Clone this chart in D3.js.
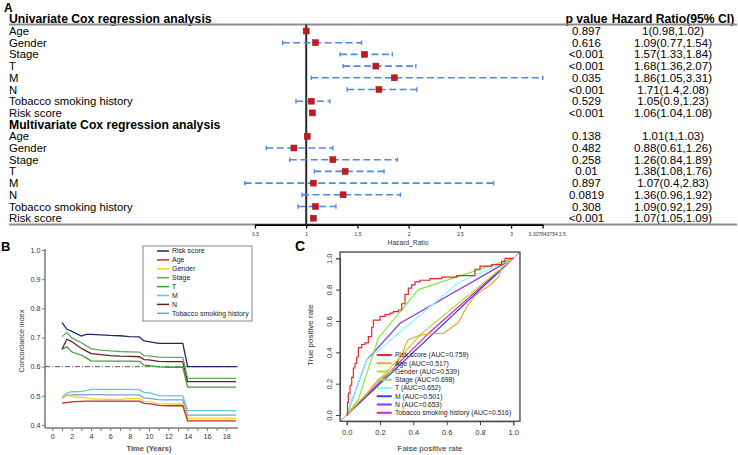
<!DOCTYPE html>
<html><head><meta charset="utf-8">
<script src="https://cdn.jsdelivr.net/npm/d3@7"></script>
<style>
body{margin:0;background:#fff}
svg{display:block;font-family:"Liberation Sans",Arial,Helvetica,sans-serif}
</style></head><body>
<svg id="fig" width="738" height="455"></svg>
<script>
// ---------- panel A: forest plot ----------
const coxVars = ["Age","Gender","Stage","T","M","N","Tobacco smoking history","Risk score"];
const uniP  = ["0.897","0.616","<0.001","<0.001","0.035","<0.001","0.529","<0.001"];
const uniHR = [1, 1.09, 1.57, 1.68, 1.86, 1.71, 1.05, 1.06];
const uniLo = [0.98, 0.77, 1.33, 1.36, 1.05, 1.4, 0.9, 1.04];
const uniHi = [1.02, 1.54, 1.84, 2.07, 3.31, 2.08, 1.23, 1.08];
const mulP  = ["0.138","0.482","0.258","0.01","0.897","0.0819","0.308","<0.001"];
const mulHR = [1.01, 0.88, 1.26, 1.38, 1.07, 1.36, 1.09, 1.07];
const mulLo = [1, 0.61, 0.84, 1.08, 0.4, 0.96, 0.92, 1.05];
const mulHi = [1.03, 1.26, 1.89, 1.76, 2.83, 1.92, 1.29, 1.09];
const hrTicks = [0.5, 1, 1.5, 2, 2.5, 3, 3.307843754];

// ---------- panel B: C-index over time ----------
const cTime = [1,1.5,2,2.5,3,3.5,4,5,6,7,8,9,9.5,10,11,12,13,13.5,14,15,16,17,18,19];
const cSeries = ["Risk score","Age","Gender","Stage","T","M","N","Tobacco smoking history"];
const cRisk  = [0.752,0.728,0.722,0.713,0.705,0.711,0.711,0.709,0.707,0.706,0.703,0.702,0.688,0.686,0.680,0.680,0.680,0.680,0.600,0.600,0.600,0.600,0.600,0.600];
const cAge   = [0.475,0.477,0.479,0.480,0.481,0.482,0.482,0.482,0.482,0.482,0.482,0.482,0.474,0.473,0.467,0.466,0.466,0.466,0.414,0.414,0.414,0.414,0.414,0.414];
const cGender= [0.495,0.505,0.497,0.496,0.495,0.493,0.490,0.489,0.488,0.488,0.491,0.491,0.481,0.480,0.473,0.472,0.472,0.472,0.423,0.423,0.423,0.423,0.423,0.423];
const cStage = [0.703,0.717,0.700,0.690,0.682,0.672,0.662,0.657,0.654,0.652,0.651,0.650,0.638,0.637,0.633,0.632,0.632,0.632,0.560,0.560,0.560,0.560,0.560,0.560];
const cT     = [0.660,0.668,0.651,0.645,0.640,0.630,0.620,0.619,0.619,0.619,0.619,0.618,0.605,0.604,0.599,0.598,0.598,0.598,0.530,0.530,0.530,0.530,0.530,0.530];
const cM     = [0.497,0.509,0.514,0.514,0.515,0.518,0.522,0.522,0.522,0.522,0.522,0.521,0.512,0.511,0.501,0.500,0.500,0.500,0.449,0.449,0.449,0.449,0.449,0.449];
const cN     = [0.660,0.694,0.686,0.674,0.663,0.654,0.645,0.641,0.638,0.636,0.635,0.634,0.624,0.623,0.618,0.617,0.617,0.617,0.549,0.549,0.549,0.549,0.549,0.549];
const cTob   = [0.492,0.502,0.503,0.504,0.503,0.503,0.504,0.504,0.503,0.503,0.503,0.503,0.492,0.491,0.487,0.486,0.486,0.486,0.434,0.434,0.434,0.434,0.434,0.434];
const cColors = ["#1b2a6b","#c42a2f","#f4d22a","#66a85f","#36a534","#62c6e0","#6a1a2c","#7f9fd6"];

// ---------- panel C: ROC curves ----------
const rocNames = ["Risk score","Age","Gender","Stage","T","M","N","Tobacco smoking history"];
const rocAUC = ["0.759","0.517","0.539","0.698","0.652","0.501","0.653","0.516"];
const rocRiskFpr = [0,0.005,0.005,0.01,0.01,0.02,0.02,0.03,0.03,0.04,0.04,0.05,0.05,0.06,0.06,0.07,0.07,0.09,0.09,0.11,0.11,0.13,0.13,0.15,0.15,0.16,0.16,0.2,0.2,0.23,0.23,0.26,0.26,0.28,0.28,0.31,0.31,0.33,0.33,0.35,0.35,0.37,0.37,0.39,0.39,0.41,0.41,0.44,0.44,0.5,0.5,0.57,0.57,0.66,0.66,0.77,0.77,0.8,0.8,0.87,0.87,0.93,0.93,0.95,0.95,1];
const rocRiskTpr = [0,0,0.08,0.08,0.14,0.14,0.19,0.19,0.24,0.24,0.3,0.3,0.33,0.33,0.37,0.37,0.43,0.43,0.45,0.45,0.46,0.46,0.5,0.5,0.56,0.56,0.606,0.606,0.63,0.63,0.64,0.64,0.65,0.65,0.66,0.66,0.67,0.67,0.71,0.71,0.77,0.77,0.81,0.81,0.83,0.83,0.85,0.85,0.86,0.86,0.87,0.87,0.88,0.88,0.89,0.89,0.93,0.93,0.95,0.95,0.96,0.96,0.98,0.98,1,1];
const rocAgeFpr = [0,0.04,0.08,0.12,0.16,0.2,0.24,0.28,0.3,0.33,0.35,0.37,0.44,0.52,0.58,0.62,0.67,0.72,0.77,0.82,0.86,0.91,0.93,0.97,1];
const rocAgeTpr = [0,0.05,0.09,0.13,0.19,0.23,0.26,0.29,0.33,0.38,0.44,0.48,0.51,0.52,0.52,0.55,0.59,0.69,0.76,0.8,0.83,0.88,0.94,0.97,1];
const rocGenderFpr = [0,0.45,1], rocGenderTpr = [0,0.52,1];
const rocStageFpr = [0,0.07,0.19,0.43,1], rocStageTpr = [0,0.1,0.49,0.8,1];
const rocTFpr = [0,0.12,0.67,1], rocTTpr = [0,0.35,0.844,1];
const rocMFpr = [0,0.5,1], rocMTpr = [0,0.5,1];
const rocNFpr = [0,0.12,0.32,1], rocNTpr = [0,0.35,0.585,1];
const rocTobFpr = [0,0.5,1], rocTobTpr = [0,0.53,1];
const rocColors = ["#e8262b","#f2a630","#b0e040","#80e84a","#80ffff","#3a40f0","#8a32f0","#e020b8"];

const svg = d3.select("#fig");
svg.append("rect").attr("width",738).attr("height",455).attr("fill","#fff");

// ======== Panel A ========
const A = svg.append("g");
const xHR = d3.scaleLinear().domain([0.5, 3.307843754]).range([255, 542.6]);
const rowY = d3.scaleLinear().domain([0, 17]).range([19.3, 218.2]);
A.append("text").attr("x",4).attr("y",11.5).attr("font-weight","bold").attr("font-size",12).text("A");

const rows = [];
rows.push({label:"Univariate Cox regression analysis", head:true});
coxVars.forEach((v,i)=>rows.push({label:v, p:uniP[i], hr:uniHR[i], lo:uniLo[i], hi:uniHi[i]}));
rows.push({label:"Multivariate Cox regression analysis", head:true});
coxVars.forEach((v,i)=>rows.push({label:v, p:mulP[i], hr:mulHR[i], lo:mulLo[i], hi:mulHi[i]}));

A.selectAll("text.lab").data(rows).join("text").attr("class","lab")
  .attr("x",9).attr("y",(d,i)=>rowY(i)+4)
  .attr("font-size",d=>d.head?12.2:11.3).attr("font-weight",d=>d.head?"bold":"normal")
  .text(d=>d.label);
A.append("text").attr("x",586.5).attr("y",rowY(0)+4).attr("text-anchor","middle")
  .attr("font-size",12.2).attr("font-weight","bold").text("p value");
A.append("text").attr("x",673).attr("y",rowY(0)+4).attr("text-anchor","middle")
  .attr("font-size",12.2).attr("font-weight","bold").text("Hazard Ratio(95% CI)");
const dataRows = rows.map((d,i)=>({...d,i})).filter(d=>!d.head);
A.selectAll("text.pv").data(dataRows).join("text").attr("class","pv")
  .attr("x",586.5).attr("y",d=>rowY(d.i)+4).attr("text-anchor","middle").attr("font-size",11.5)
  .text(d=>d.p);
A.selectAll("text.hr").data(dataRows).join("text").attr("class","hr")
  .attr("x",673).attr("y",d=>rowY(d.i)+4).attr("text-anchor","middle").attr("font-size",11.5)
  .text(d=>`${d.hr}(${d.lo},${d.hi})`);

// rules
A.append("line").attr("x1",9).attr("x2",737).attr("y1",24.6).attr("y2",24.6).attr("stroke","#8e8a8e").attr("stroke-width",2);
A.append("line").attr("x1",9).attr("x2",737).attr("y1",224.6).attr("y2",224.6).attr("stroke","#8e8a8e").attr("stroke-width",2);
// axis
const axA = A.append("g").attr("transform","translate(0,224.6)")
  .call(d3.axisBottom(xHR).tickValues(hrTicks).tickSize(4).tickSizeOuter(0).tickFormat(d=>String(d)));
axA.select(".domain").attr("stroke","#000").attr("stroke-width",1.6);
axA.selectAll(".tick line").attr("stroke","#000").attr("stroke-width",1.3);
axA.selectAll(".tick text").attr("font-size",5).attr("fill","#333").attr("y",8).attr("font-family","Liberation Sans, Arial");
A.append("text").attr("x",xHR(3.5)).attr("y",235.5).attr("text-anchor","middle").attr("font-size",5).attr("fill","#333").text("3.5");
A.append("text").attr("x",408).attr("y",244.5).attr("text-anchor","middle").attr("font-size",6.7).attr("fill","#333").text("Hazard_Ratio");
// reference line at HR = 1
A.append("line").attr("x1",xHR(1)).attr("x2",xHR(1)).attr("y1",24.6).attr("y2",224.6).attr("stroke","#2a2a2a").attr("stroke-width",2);
// CIs
const ci = A.selectAll("g.ci").data(dataRows).join("g").attr("class","ci");
ci.append("line").attr("x1",d=>xHR(d.lo)).attr("x2",d=>xHR(d.hi)).attr("y1",d=>rowY(d.i)).attr("y2",d=>rowY(d.i))
  .attr("stroke","#4f89e6").attr("stroke-width",1.6).attr("stroke-dasharray","7,3.5");
ci.append("line").attr("x1",d=>xHR(d.lo)).attr("x2",d=>xHR(d.lo)).attr("y1",d=>rowY(d.i)-2.2).attr("y2",d=>rowY(d.i)+2.2)
  .attr("stroke","#4f89e6").attr("stroke-width",1.4);
ci.append("line").attr("x1",d=>xHR(d.hi)).attr("x2",d=>xHR(d.hi)).attr("y1",d=>rowY(d.i)-2.2).attr("y2",d=>rowY(d.i)+2.2)
  .attr("stroke","#4f89e6").attr("stroke-width",1.4);
ci.append("rect").attr("x",d=>xHR(d.hr)-3).attr("y",d=>rowY(d.i)-3).attr("width",6).attr("height",6)
  .attr("fill","#c01c1f").attr("stroke","#a01418").attr("stroke-width",0.5);

// ======== Panel B ========
const B = svg.append("g");
const xB = d3.scaleLinear().domain([0,18]).range([52.3,226.3]);
const yB = d3.scaleLinear().domain([0.4,1.0]).range([425,250]);
B.append("text").attr("x",1).attr("y",251).attr("font-weight","bold").attr("font-size",13).text("B");
const bLeft = 45, bBottom = 428, bRight = 238;
B.append("line").attr("x1",bLeft).attr("x2",bLeft).attr("y1",yB(1.0)-1).attr("y2",bBottom).attr("stroke","#7a7a7a").attr("stroke-width",1.5);
B.append("line").attr("x1",bLeft).attr("x2",bRight).attr("y1",bBottom).attr("y2",bBottom).attr("stroke","#7a7a7a").attr("stroke-width",1.5);
const ayB = B.append("g").attr("transform",`translate(${bLeft},0)`)
  .call(d3.axisLeft(yB).tickValues(d3.range(0.4,1.01,0.1)).tickFormat(d3.format(".1f")).tickSize(3));
ayB.select(".domain").remove();
ayB.selectAll(".tick line").attr("stroke","#7a7a7a");
ayB.selectAll(".tick text").attr("font-size",7.2).attr("fill","#333").attr("x",-4.5);
const axB = B.append("g").attr("transform",`translate(0,${bBottom})`)
  .call(d3.axisBottom(xB).tickValues(d3.range(0,19,1)).tickFormat(d=>d%2===0?d:"").tickSize(3));
axB.select(".domain").remove();
axB.selectAll(".tick line").attr("stroke","#7a7a7a");
axB.selectAll(".tick text").attr("font-size",7.2).attr("fill","#333").attr("y",5.5);
B.append("text").attr("transform","translate(24,341) rotate(-90)").attr("text-anchor","middle")
  .attr("font-size",7.3).attr("fill","#333").text("Concordance index");
B.append("text").attr("x",149).attr("y",451).attr("text-anchor","middle").attr("font-size",7.6)
  .attr("font-weight","bold").attr("fill","#555").text("Time (Years)");
B.append("line").attr("x1",bLeft).attr("x2",bRight).attr("y1",yB(0.6)).attr("y2",yB(0.6))
  .attr("stroke","#444").attr("stroke-width",0.9).attr("stroke-dasharray","5,2,1,2");
const bVals = [cRisk,cAge,cGender,cStage,cT,cM,cN,cTob];
const lineB = d3.line().x((d,i)=>xB(cTime[i])).y(d=>yB(d));
const drawOrder = [5,7,2,1,4,6,3,0];
B.selectAll("path.cl").data(drawOrder).join("path").attr("class","cl")
  .attr("d",k=>lineB(bVals[k])).attr("fill","none").attr("stroke",k=>cColors[k]).attr("stroke-width",1.3);
// legend
B.append("rect").attr("x",143).attr("y",246).attr("width",109).attr("height",75)
  .attr("fill","#fff").attr("stroke","#666").attr("stroke-width",0.8);
const legB = B.selectAll("g.lb").data(cSeries).join("g").attr("class","lb")
  .attr("transform",(d,i)=>`translate(0,${251+i*8.9})`);
legB.append("line").attr("x1",157).attr("x2",169).attr("stroke",(d,i)=>cColors[i]).attr("stroke-width",1.5);
legB.append("text").attr("x",172).attr("y",2.4).attr("font-size",7).attr("fill","#222").text(d=>d);

// ======== Panel C ========
const C = svg.append("g");
const xC = d3.scaleLinear().domain([0,1]).range([346.7,513.3]);
const yC = d3.scaleLinear().domain([0,1]).range([415,258.3]);
C.append("text").attr("x",295).attr("y",251).attr("font-weight","bold").attr("font-size",14).text("C");
C.append("rect").attr("x",xC(-0.04)).attr("y",yC(1.04)).attr("width",xC(1.04)-xC(-0.04)).attr("height",yC(-0.04)-yC(1.04))
  .attr("fill","none").attr("stroke","#444").attr("stroke-width",1.3);
const axC = C.append("g").attr("transform",`translate(0,${yC(-0.04)})`)
  .call(d3.axisBottom(xC).tickValues([0,0.2,0.4,0.6,0.8,1]).tickFormat(d3.format(".1f")).tickSize(4));
axC.select(".domain").attr("stroke","#444");
axC.selectAll(".tick line").attr("stroke","#444");
axC.selectAll(".tick text").attr("font-size",7.6).attr("fill","#333").attr("y",8);
const ayC = C.append("g").attr("transform",`translate(${xC(-0.04)},0)`)
  .call(d3.axisLeft(yC).tickValues([0,0.2,0.4,0.6,0.8,1]).tickFormat(d3.format(".1f")).tickSize(4));
ayC.select(".domain").attr("stroke","#444");
ayC.selectAll(".tick line").attr("stroke","#444");
ayC.selectAll(".tick text").attr("font-size",7.6).attr("fill","#333")
  .attr("text-anchor","middle").attr("dy","0")
  .attr("transform","rotate(-90)").attr("x",0).attr("y",-8);
C.append("text").attr("transform","translate(313,335) rotate(-90)").attr("text-anchor","middle")
  .attr("font-size",8).attr("fill","#333").text("True positive rate");
C.append("text").attr("x",xC(0.5)).attr("y",451).attr("text-anchor","middle").attr("font-size",8).attr("fill","#333").text("False positive rate");
C.append("line").attr("x1",xC(-0.04)).attr("y1",yC(-0.04)).attr("x2",xC(1.04)).attr("y2",yC(1.04))
  .attr("stroke","#666").attr("stroke-width",0.8);
const rocF = [rocRiskFpr,rocAgeFpr,rocGenderFpr,rocStageFpr,rocTFpr,rocMFpr,rocNFpr,rocTobFpr];
const rocT = [rocRiskTpr,rocAgeTpr,rocGenderTpr,rocStageTpr,rocTTpr,rocMTpr,rocNTpr,rocTobTpr];
const rocLine = (k)=>d3.line()(rocF[k].map((f,i)=>[xC(f),yC(rocT[k][i])]));
C.selectAll("path.roc").data([7,6,5,4,3,2,1,0]).join("path").attr("class","roc")
  .attr("d",k=>rocLine(k)).attr("fill","none").attr("stroke",k=>rocColors[k]).attr("stroke-width",1.2);
const legC = C.selectAll("g.lc").data(rocNames).join("g").attr("class","lc")
  .attr("transform",(d,i)=>`translate(0,${355+i*8.25})`);
legC.append("line").attr("x1",376.7).attr("x2",391.7).attr("stroke",(d,i)=>rocColors[i]).attr("stroke-width",2);
legC.append("text").attr("x",395).attr("y",2.4).attr("font-size",6.8).attr("fill","#222")
  .text((d,i)=>`${d} (AUC=${rocAUC[i]})`);
</script>
</body></html>
